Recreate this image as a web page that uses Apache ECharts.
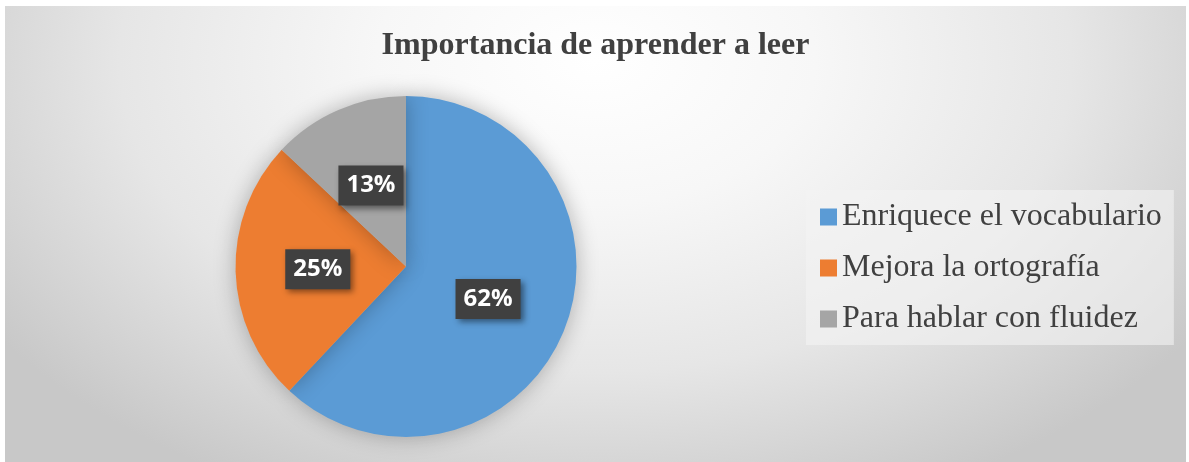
<!DOCTYPE html>
<html>
<head>
<meta charset="utf-8">
<script src="https://cdn.jsdelivr.net/npm/echarts@6/dist/echarts.min.js"></script>
<style>
  html, body { margin: 0; padding: 0; background: #fff; }
  #chart {
    position: absolute; left: 5px; top: 6px; width: 1181px; height: 456px;
    background: radial-gradient(ellipse 62% 105% at 50% 12%, #ffffff 0%, #f7f7f7 30%, #e6e6e6 65%, #c8c8c8 100%);
  }
</style>
</head>
<body>
<div id="chart"></div>
<script>
var titleText = 'Importancia de aprender a leer';
var categories = ['Enriquece el vocabulario', 'Mejora la ortografía', 'Para hablar con fluidez'];
var percentages = [62, 25, 13];
var colors = ['#5B9BD5', '#ED7D31', '#A5A5A5'];

var chart = echarts.init(document.getElementById('chart'), null, { renderer: 'canvas' });

var pieData = categories.map(function (name, i) {
	return { name: name, value: percentages[i], itemStyle: { color: colors[i] } };
});

var option = {
	backgroundColor: 'transparent',
	animation: false,
	title: {
		text: titleText,
		left: 'center',
		top: 19,
		textStyle: {
			fontFamily: '"Liberation Serif", "Times New Roman", serif',
			fontWeight: 'bold',
			fontSize: 32,
			color: '#404040'
		}
	},
	legend: {
		orient: 'vertical',
		left: 801,
		top: 184,
		icon: 'rect',
		itemWidth: 17,
		itemHeight: 17,
		itemGap: 15,
		padding: [9, 12, 8, 14],
		backgroundColor: 'rgba(243,243,243,0.6)',
		textStyle: {
			fontFamily: '"Liberation Serif", "Times New Roman", serif',
			fontSize: 32,
			lineHeight: 36,
			color: '#404040'
		},
		data: categories
	},
	series: [{
		type: 'pie',
		center: [401, 260.5],
		radius: 170.5,
		startAngle: 90,
		clockwise: true,
		avoidLabelOverlap: false,
		itemStyle: {
			shadowBlur: 22,
			shadowColor: 'rgba(0,0,0,0.28)'
		},
		emphasis: { disabled: true },
		label: {
			show: true,
			position: 'inside',
			formatter: function (p) { return p.value + '%'; },
			fontFamily: '"Open Sans", sans-serif',
			fontWeight: 'bold',
			fontSize: 24,
			color: '#ffffff',
			backgroundColor: '#404040',
			padding: [9, 8, 7, 8],
			shadowBlur: 6,
			shadowColor: 'rgba(0,0,0,0.45)',
			shadowOffsetX: 3,
			shadowOffsetY: 3
		},
		labelLine: { show: false },
		data: pieData
	}]
};

chart.setOption(option);
</script>
</body>
</html>
